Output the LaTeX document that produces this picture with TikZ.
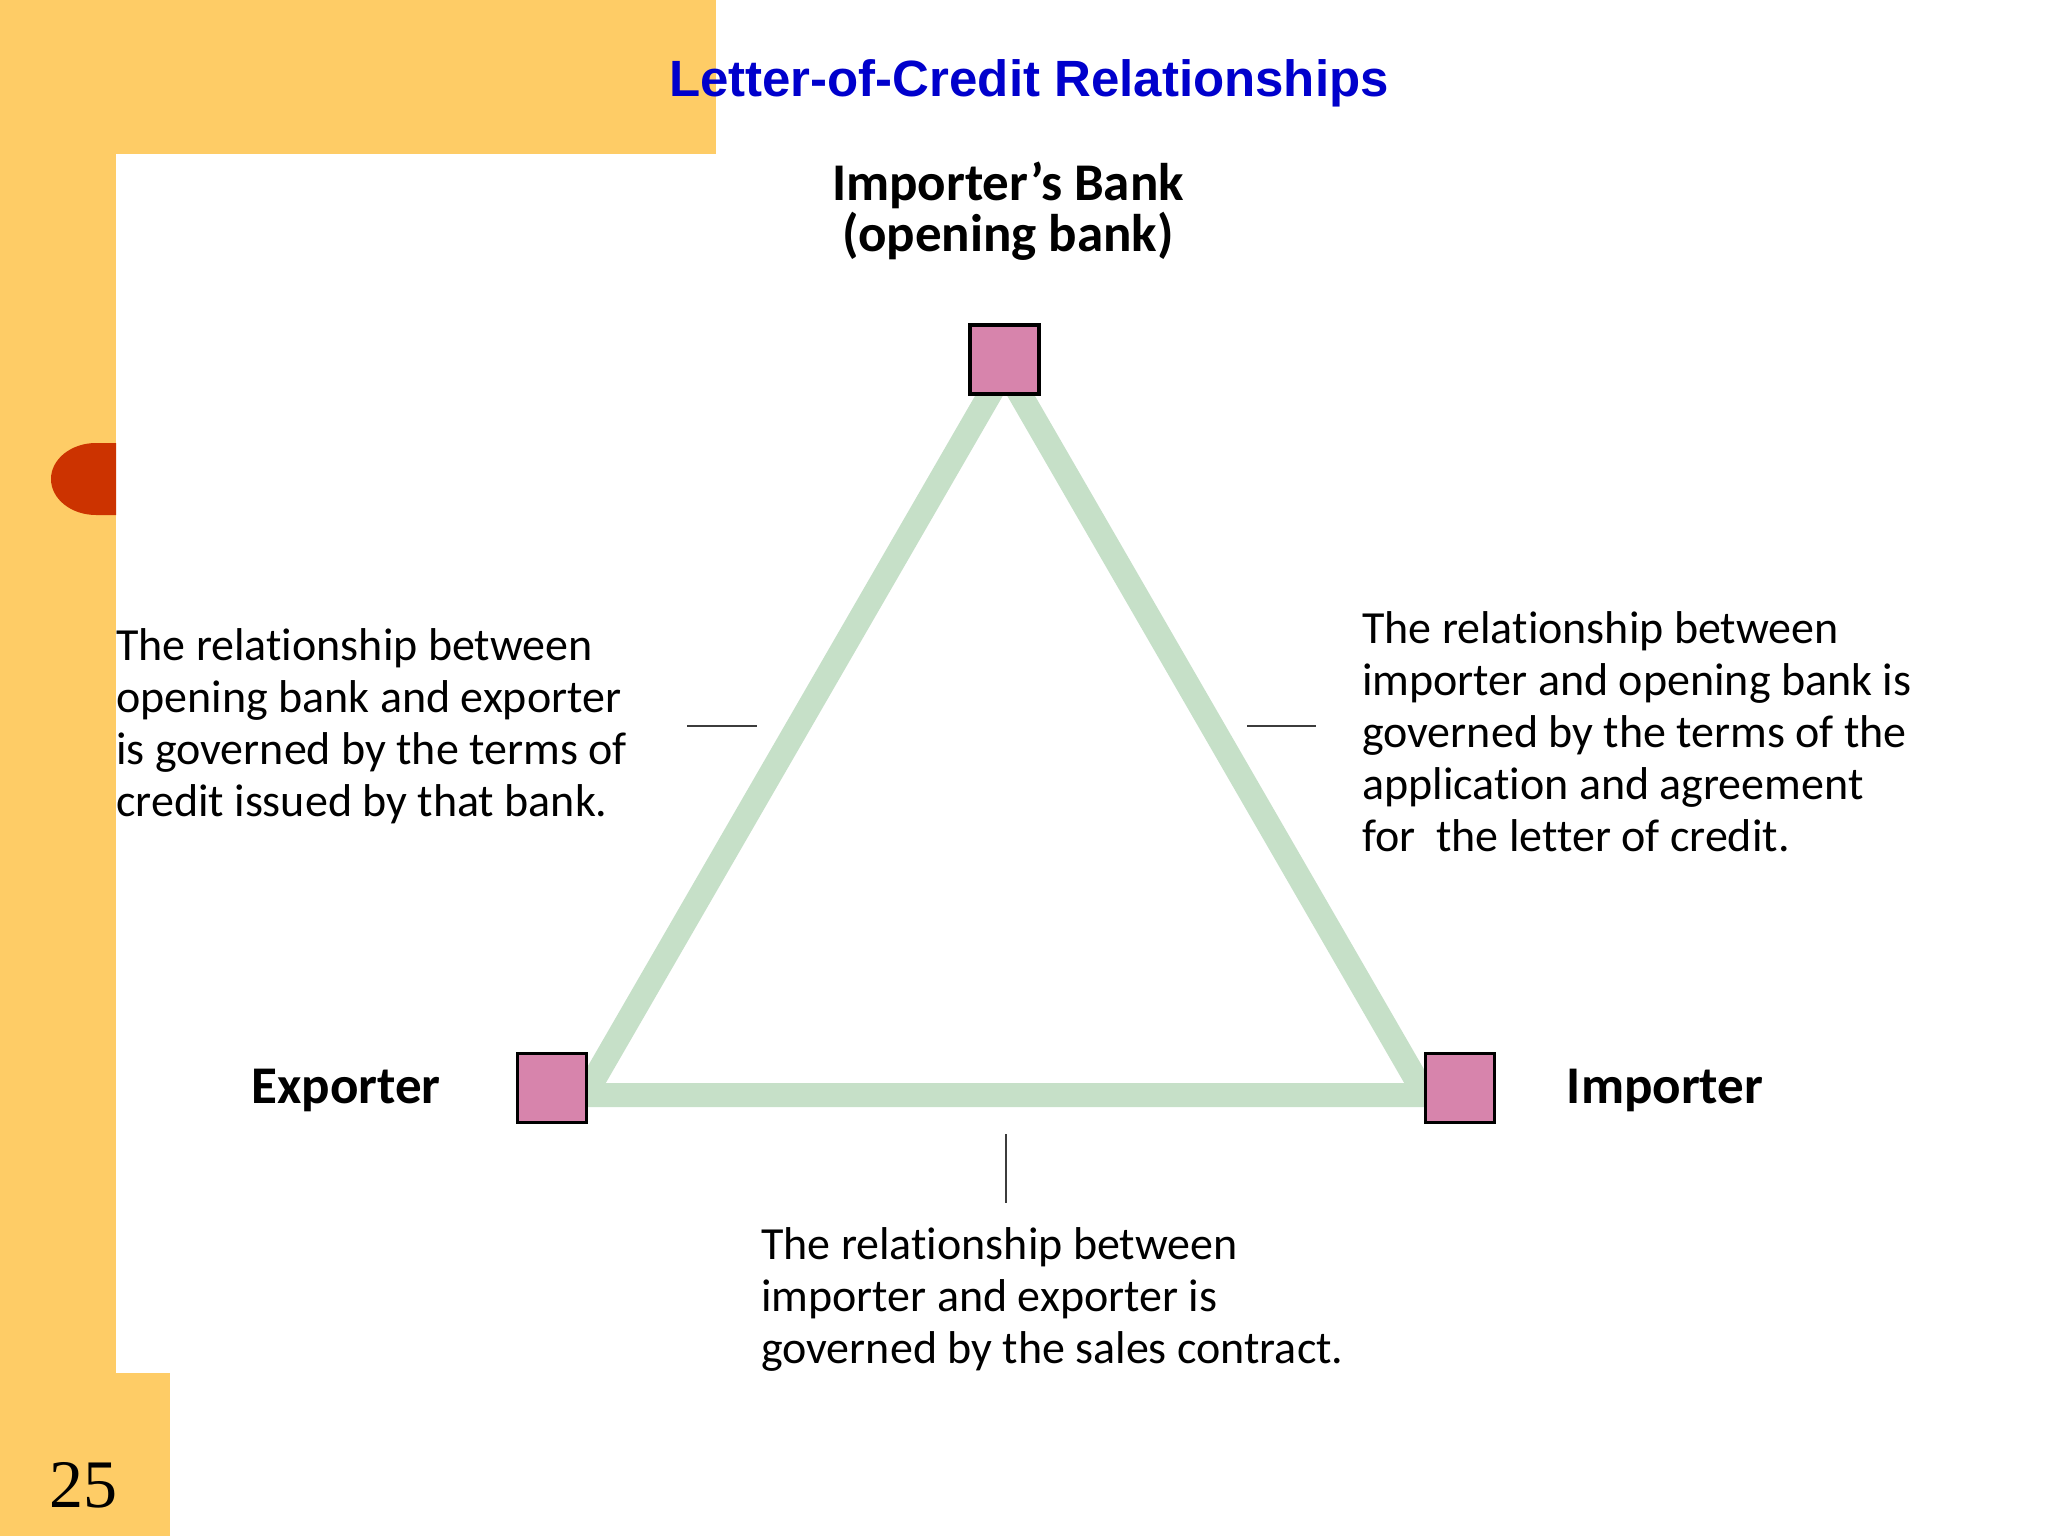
\documentclass[tikz,border=0pt]{standalone}
\usepackage{fontspec}
\setmainfont{Carlito}[Ligatures={TeX,NoCommon}]
\newfontfamily\titlefont{Liberation Sans}
\newfontfamily\numfont{Liberation Serif}
\definecolor{slideorange}{RGB}{254,204,102}
\definecolor{slidered}{RGB}{204,51,0}
\definecolor{titleblue}{RGB}{0,0,204}
\definecolor{linkgreen}{RGB}{198,224,200}
\definecolor{boxpink}{RGB}{215,132,172}
\definecolor{tickgray}{RGB}{60,60,60}
\tikzset{
  party/.style={draw=black, line width=3.5pt, fill=boxpink, minimum size=69pt, inner sep=0pt},
  link/.style={draw=linkgreen, line width=24pt, line join=miter},
  tick/.style={draw=tickgray, line width=2pt},
  bodytext/.style={font=\fontsize{46}{52.2}\selectfont, align=left, inner sep=0pt},
  partylabel/.style={font=\fontsize{53}{51}\selectfont\bfseries, inner sep=0pt},
}
\begin{document}
\begin{tikzpicture}[x=1pt, y=-1pt]
\useasboundingbox (0,0) rectangle (2048,1536);
% background
\fill[white] (0,0) rectangle (2048,1536);
\fill[slideorange] (0,0) rectangle (716,154);
\fill[slideorange] (0,0) rectangle (116,1536);
\fill[slideorange] (0,1373) rectangle (170,1536);
\fill[slidered] (116,443) -- (96,443) arc[start angle=270, end angle=90, x radius=45, y radius=36] -- (116,515) -- cycle;
% title and page number
\node[anchor=base, inner sep=0pt, text=titleblue, font=\titlefont\fontsize{51}{60}\selectfont\bfseries] (title) at (1029,97) {Letter-of-Credit Relationships};
\node[anchor=base, inner sep=0pt, font=\numfont\fontsize{68}{70}\selectfont] (pagenum) at (83.5,1507) {25};
% triangle of relationships
\coordinate (vbank) at (1005,368);
\coordinate (vexp) at (585,1095);
\coordinate (vimp) at (1425,1095);
\draw[link] (vbank) -- (vexp) -- (vimp) -- cycle;
% parties
\node[party] (bank) at (1004.5,359.5) {};
\node[party] (exporter) at (552,1088) {};
\node[party] (importer) at (1460,1088) {};
% party labels
\node[partylabel, anchor=north, align=center] (banklabel) at (1008,162) {Importer's Bank\\(opening bank)};
\node[partylabel, anchor=base] (explabel) at (346,1103) {Exporter};
\node[partylabel, anchor=base] (implabel) at (1665,1103) {Importer};
% relationship texts
\node[bodytext, anchor=north west] (lefttext) at (116,628) {The relationship between\\opening bank and exporter\\is governed by the terms of\\credit issued by that bank.};
\node[bodytext, anchor=north west] (righttext) at (1362,611) {The relationship between\\importer and opening bank is\\governed by the terms of the\\application and agreement\\for\ \ the letter of credit.};
\node[bodytext, anchor=north west] (bottomtext) at (761,1227) {The relationship between\\importer and exporter is\\governed by the sales contract.};
% ticks
\coordinate (lt1) at (687,726);
\coordinate (lt2) at (757,726);
\coordinate (rt1) at (1247,726);
\coordinate (rt2) at (1316,726);
\coordinate (bt1) at (1006,1134);
\coordinate (bt2) at (1006,1203);
\draw[tick] (lt1) -- (lt2);
\draw[tick] (rt1) -- (rt2);
\draw[tick] (bt1) -- (bt2);
\end{tikzpicture}
\end{document}
